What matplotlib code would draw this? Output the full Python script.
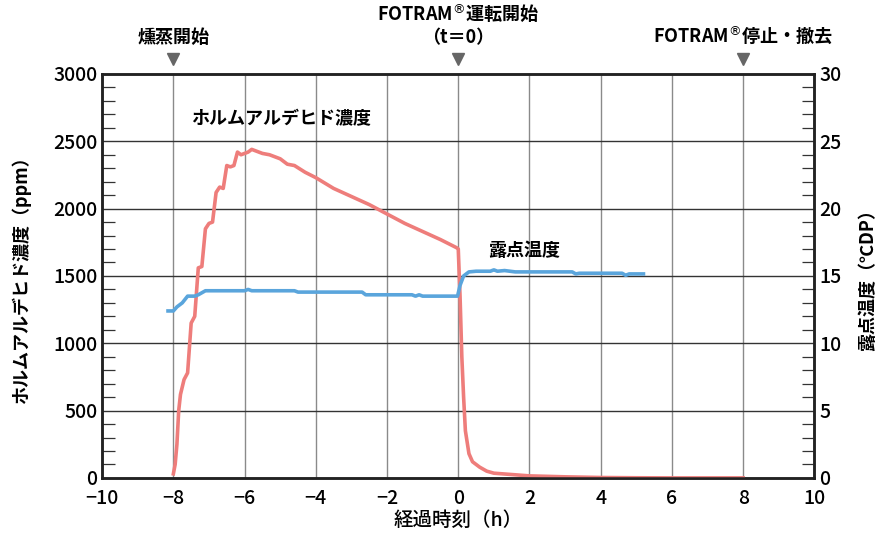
import matplotlib
matplotlib.use("Agg")
import matplotlib.pyplot as plt
from matplotlib.ticker import MultipleLocator

plt.rcParams['font.family'] = ['Noto Sans CJK JP', 'DejaVu Sans']

hcho_t = [-8.0, -7.95, -7.9, -7.85, -7.8, -7.7, -7.6, -7.5, -7.4, -7.3, -7.2, -7.1, -7.0, -6.9, -6.8, -6.7, -6.6,
          -6.5, -6.4, -6.3, -6.2, -6.1, -6.0, -5.9, -5.8, -5.7, -5.6, -5.5, -5.3, -5.0, -4.8, -4.6, -4.3, -4.0,
          -3.5, -3.0, -2.5, -2.0, -1.5, -1.0, -0.5, -0.05, 0.0, 0.05, 0.1, 0.15, 0.2, 0.3, 0.4, 0.6, 0.8,
          1.0, 1.5, 2.0, 3.0, 4.0, 5.0, 6.0, 8.0]
hcho_v = [30, 100, 250, 500, 620, 730, 780, 1150, 1200, 1560, 1570, 1850, 1890, 1900, 2120, 2160, 2150,
          2320, 2310, 2320, 2420, 2400, 2410, 2420, 2440, 2430, 2420, 2410, 2400, 2370, 2330, 2320, 2270, 2230,
          2150, 2090, 2030, 1960, 1890, 1830, 1770, 1710, 1700, 1350, 900, 600, 350, 180, 120, 80, 50,
          35, 25, 15, 8, 3, 1, 0, 0]

dew_t = [-8.15, -8.0, -7.9, -7.75, -7.6, -7.4, -7.3, -7.1, -6.0, -5.9, -5.8, -4.6, -4.5, -2.7, -2.6, -1.3,
         -1.2, -1.1, -1.0, -0.02, 0.05, 0.15, 0.3, 0.5, 0.9, 1.0, 1.1, 1.3, 1.6, 1.9, 3.2, 3.3, 3.4, 4.0,
         4.6, 4.7, 4.8, 5.2]
dew_v = [12.4, 12.4, 12.7, 13.0, 13.5, 13.5, 13.6, 13.9, 13.9, 14.0, 13.9, 13.9, 13.8, 13.8, 13.6, 13.6,
         13.5, 13.6, 13.5, 13.5, 14.3, 15.0, 15.3, 15.35, 15.35, 15.45, 15.35, 15.4, 15.3, 15.3, 15.3, 15.15, 15.2, 15.2,
         15.2, 15.05, 15.15, 15.15]

fig = plt.figure(figsize=(8.92, 5.4), dpi=100)
ax = fig.add_axes([0.1145, 0.115, 0.7985, 0.748])
ax2 = ax.twinx()

ax.set_xlim(-10, 10)
ax.set_ylim(0, 3000)
ax2.set_ylim(0, 30)

for x in range(-8, 10, 2):
    ax.axvline(x, color='#8a8a8a', lw=1.0, zorder=0)
for y in range(500, 3000, 500):
    ax.axhline(y, color='#333333', lw=1.0, zorder=0)

ax.plot(hcho_t, hcho_v, color='#ee7d7b', lw=2.6, zorder=3)
ax2.plot(dew_t, dew_v, color='#5aa5dc', lw=2.6, zorder=3)

ax.set_xticks(range(-10, 11, 2))
ax.set_xticklabels(['−10', '−8', '−6', '−4', '−2', '0', '2', '4', '6', '8', '10'])
ax.set_yticks(range(0, 3001, 500))
ax.yaxis.set_minor_locator(MultipleLocator(100))
ax2.set_yticks(range(0, 31, 5))
ax2.yaxis.set_minor_locator(MultipleLocator(1))
ax.tick_params(axis='x', length=0, labelsize=14, pad=8)
ax.tick_params(axis='y', which='both', direction='in', length=9, width=0.9, labelsize=14, color='#333333')
ax.tick_params(axis='y', which='major', length=0)
ax2.tick_params(axis='y', which='both', direction='in', length=9, width=0.9, labelsize=14, color='#333333')
ax2.tick_params(axis='y', which='major', length=0)
for a in (ax, ax2):
    for s in a.spines.values():
        s.set_linewidth(1.8)
        s.set_color('#222222')
    for lab in a.get_xticklabels() + a.get_yticklabels():
        lab.set_fontweight('medium')

ax.set_xlabel('経過時刻（h）', fontsize=14, fontweight='medium', labelpad=2)
ax.set_ylabel('ホルムアルデヒド濃度（ppm）', fontsize=13, fontweight='bold', labelpad=16)
ax2.set_ylabel('露点温度（℃DP）', fontsize=13, fontweight='bold', labelpad=12)

ax.text(-7.5, 2600, 'ホルムアルデヒド濃度', fontsize=13, ha='left', va='bottom', fontweight='bold')
ax.text(0.85, 1620, '露点温度', fontsize=13, ha='left', va='bottom', fontweight='bold')

for x in (-8, 0, 8):
    ax.plot([x], [3110], marker='v', color='#666666', markersize=9, clip_on=False)
ax.text(-8, 3200, '燻蒸開始', fontsize=13, ha='center', va='bottom', fontweight='bold')
ax.text(0, 3200, 'FOTRAM$^{®}$運転開始\n（t＝0）', fontsize=13, ha='center', va='bottom',
        fontweight='bold', linespacing=1.3)
ax.text(8, 3200, 'FOTRAM$^{®}$停止・撤去', fontsize=13, ha='center', va='bottom', fontweight='bold')

fig.savefig('out.png', dpi=100)
